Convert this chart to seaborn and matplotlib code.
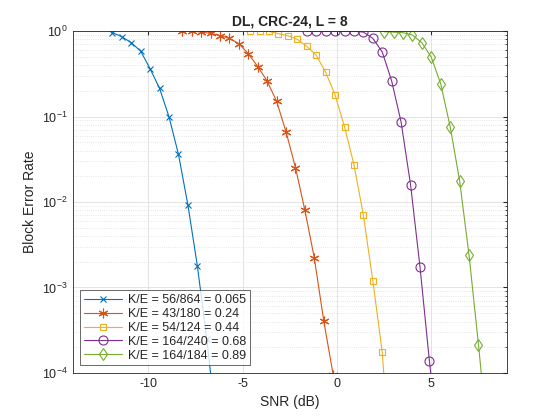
import matplotlib
matplotlib.use("Agg")
import matplotlib.pyplot as plt
import numpy as np
import pandas as pd
import seaborn as sns
from matplotlib.ticker import LogLocator, LogFormatterMathtext, NullFormatter

# Block error rate vs SNR
snr_1 = [-11.9, -11.4, -10.9, -10.4, -9.9, -9.4, -8.9, -8.4, -7.9, -7.4, -6.9, -6.4]
bler_1 = [0.957, 0.859, 0.731, 0.581, 0.361, 0.213, 0.099, 0.0361, 0.00923, 0.0018, 2.5e-4, 2.5e-5]

snr_2 = [-8.2, -7.7, -7.2, -6.7, -6.2, -5.7, -5.2, -4.7, -4.2, -3.7, -3.2, -2.7, -2.2, -1.7, -1.2, -0.7, -0.2]
bler_2 = [1.0, 1.0, 0.973, 0.94, 0.883, 0.822, 0.713, 0.545, 0.385, 0.26, 0.151, 0.0664, 0.0253,
          0.008, 0.00221, 4.06e-4, 9.5e-5]

snr_3 = [-4.6, -4.1, -3.6, -3.1, -2.6, -2.1, -1.6, -1.1, -0.6, -0.1, 0.4, 0.9, 1.4, 1.9, 2.4, 2.9]
bler_3 = [0.99, 0.99, 0.99, 0.931, 0.883, 0.80, 0.664, 0.521, 0.330, 0.179, 0.0759, 0.0274,
          0.0070, 0.0012, 1.74e-4, 5e-6]

snr_4 = [-1.6, -1.1, -0.6, -0.1, 0.4, 0.9, 1.4, 1.9, 2.4, 2.9, 3.4, 3.9, 4.4, 4.9, 5.4]
bler_4 = [0.995, 0.995, 0.995, 0.995, 0.995, 0.995, 0.973, 0.822, 0.570, 0.260, 0.0859, 0.0159,
          0.00174, 1.37e-4, 1.3e-5]

snr_5 = [2.5, 3.0, 3.5, 4.0, 4.5, 5.0, 5.5, 6.0, 6.5, 7.0, 7.5, 8.0]
bler_5 = [0.982, 0.973, 0.957, 0.898, 0.731, 0.494, 0.240, 0.0759, 0.0177, 0.00238, 2.13e-4, 1.6e-5]

labels = ["K/E = 56/864 = 0.065", "K/E = 43/180 = 0.24", "K/E = 54/124 = 0.44",
          "K/E = 164/240 = 0.68", "K/E = 164/184 = 0.89"]
colors = ["#0072BD", "#D95319", "#EDB120", "#7E2F8E", "#77AC30"]
markers = ["x", (6, 2, 0), "s", "o", "d"]
marker_sizes = [5, 7, 5, 6.5, 6]

sns.set_style("white")
plt.rcParams["font.family"] = ["Liberation Sans", "DejaVu Sans"]
plt.rcParams["axes.unicode_minus"] = False

fig = plt.figure(figsize=(5.6, 4.2), dpi=100)
ax = fig.add_axes([0.130, 0.112, 0.775, 0.814])

series = [(snr_1, bler_1), (snr_2, bler_2), (snr_3, bler_3), (snr_4, bler_4), (snr_5, bler_5)]
for (x, y), lab, c, m, ms in zip(series, labels, colors, markers, marker_sizes):
    df = pd.DataFrame({"snr": x, "bler": y})
    sns.lineplot(data=df, x="snr", y="bler", ax=ax, color=c, marker=m, markersize=ms,
                 markerfacecolor="none", markeredgecolor=c, markeredgewidth=0.8,
                 linewidth=0.8, label=lab)

ax.set_yscale("log")
ax.set_xlim(-14, 9)
ax.set_ylim(1e-4, 1)
ax.set_xticks([-10, -5, 0, 5])
ax.yaxis.set_major_locator(LogLocator(base=10, numticks=10))
ax.yaxis.set_major_formatter(LogFormatterMathtext())
ax.yaxis.set_minor_locator(LogLocator(base=10, subs=np.arange(2, 10), numticks=10))
ax.yaxis.set_minor_formatter(NullFormatter())

ax.grid(True, which="major", color="#dedede", linewidth=0.6)
ax.grid(True, which="minor", axis="y", color="#dedede", linestyle=":", linewidth=0.6)
ax.tick_params(direction="in", which="both", colors="#262626", labelsize=9,
               top=True, right=True, length=3)
ax.tick_params(which="minor", length=1.5)
for s in ax.spines.values():
    s.set_color("#262626")
    s.set_linewidth(0.6)

ax.set_xlabel("SNR (dB)", fontsize=10, color="#262626")
ax.set_ylabel("Block Error Rate", fontsize=10, color="#262626")
ax.set_title("DL, CRC-24, L = 8", fontsize=10, fontweight="bold", pad=4)

leg = ax.legend(loc="lower left", fontsize=9, frameon=True, fancybox=False,
                handlelength=3.0, handletextpad=0.5, borderpad=0.3, labelspacing=0.15,
                borderaxespad=0.6)
leg.get_frame().set_edgecolor("#262626")
leg.get_frame().set_linewidth(0.6)

fig.savefig("out.png", dpi=100)
